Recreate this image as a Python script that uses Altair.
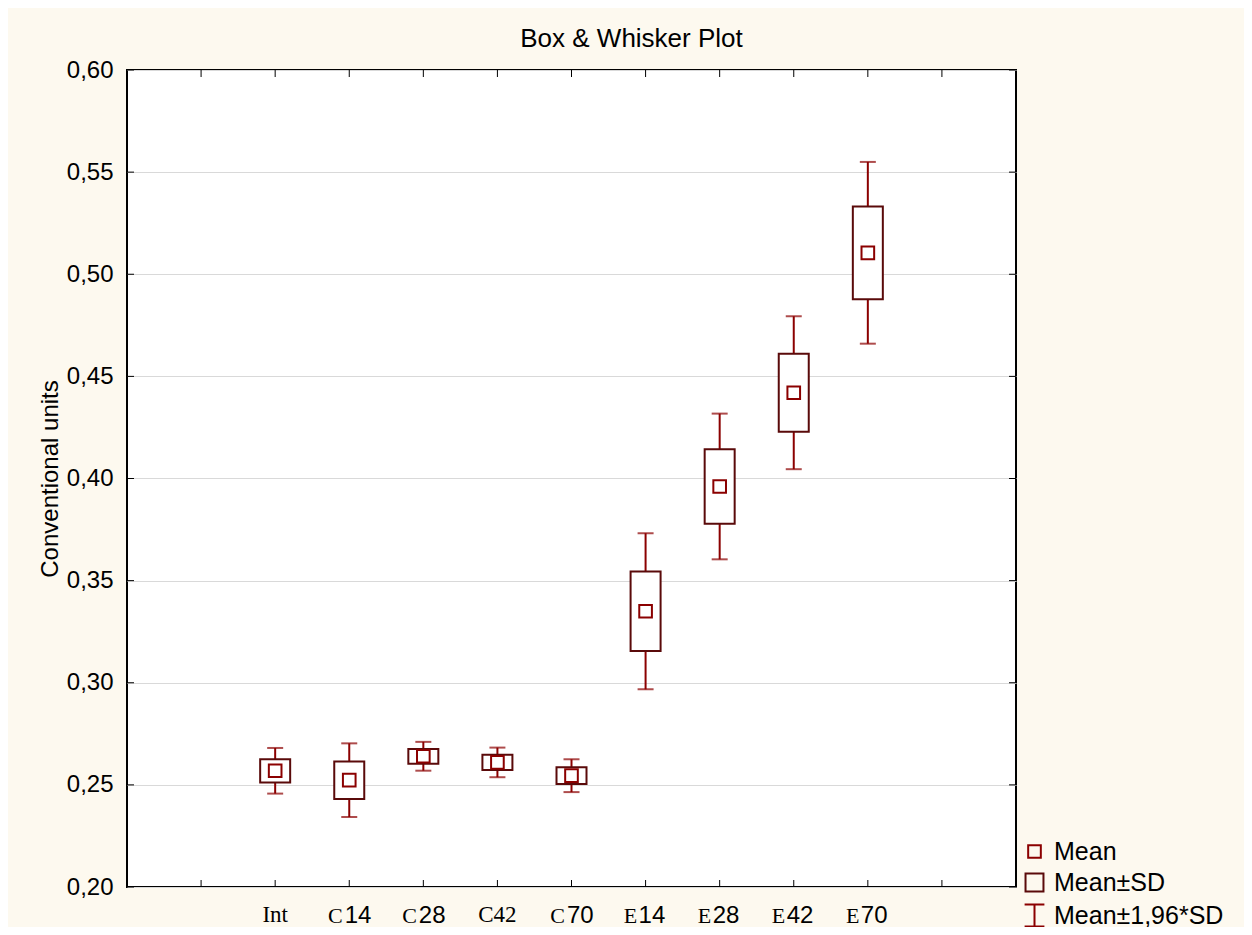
import altair as alt
import pandas as pd

# ---- data ----
groups = ["Int", "C14", "C28", "C42", "C70", "E14", "E28", "E42", "E70"]
means = [0.2569, 0.2523, 0.2640, 0.2610, 0.2545, 0.3350, 0.3961, 0.4420, 0.5105]
sds = [0.0057, 0.0092, 0.0036, 0.0037, 0.0041, 0.0195, 0.0182, 0.0191, 0.0227]
label_serif = ["Int", "C", "C", "C42", "C", "E", "E", "E", "E"]
label_sans = ["", "14", "28", "", "70", "14", "28", "42", "70"]
x_slots = ["s0"] + groups + ["s10"]
y_ticks = [0.20, 0.25, 0.30, 0.35, 0.40, 0.45, 0.50, 0.55, 0.60]
legend_items = ["Mean", "Mean±SD", "Mean±1,96*SD"]

W, H = 889, 817
SANS = "Liberation Sans"
SERIF = "Liberation Serif"
RED = "#8B0000"
DARK = "#5A0A0A"
IBEAM = "M-0.9,-1H0.9M0,-1V1M-0.9,1H0.9"

df = pd.DataFrame({"group": groups, "mean": means, "sd": sds,
                   "serif": label_serif, "sans": label_sans})
df["series"] = "Mean"

xscale = alt.Scale(type="point", domain=x_slots, padding=1)
yscale = alt.Scale(domain=[0.2, 0.6], nice=False, zero=False)
xenc = alt.X("group:N", scale=xscale, axis=None)

yaxis = alt.Axis(
    values=y_ticks,
    labelExpr="replace(format(datum.value, '.2f'), '.', ',')",
    ticks=False, domain=False,
    grid=True, gridColor="#d9d9d9", gridWidth=1,
    labelFont=SANS, labelFontSize=24, labelColor="black", labelPadding=14,
    title="Conventional units", titleFont=SANS, titleFontSize=24,
    titleFontWeight="normal", titleColor="black",
    titleAngle=270, titleAlign="center", titleBaseline="middle",
    titleX=-77, titleY=H / 2,
)


def Y(field):
    return alt.Y(field, scale=yscale, axis=yaxis)


base = alt.Chart(df).transform_calculate(
    sd_lo="datum.mean - datum.sd",
    sd_hi="datum.mean + datum.sd",
    w_lo="datum.mean - 1.96 * datum.sd",
    w_hi="datum.mean + 1.96 * datum.sd",
)

whisk = base.mark_rule(color=RED, strokeWidth=2).encode(
    x=xenc, y=Y("w_lo:Q"), y2="w_hi:Q")
cap_hi = base.mark_tick(color=RED, thickness=2, size=16, orient="horizontal").encode(
    x=xenc, y=Y("w_hi:Q"))
cap_lo = base.mark_tick(color=RED, thickness=2, size=16, orient="horizontal").encode(
    x=xenc, y=Y("w_lo:Q"))
box = base.mark_bar(fill="white", stroke=DARK, strokeWidth=2, width=30).encode(
    x=xenc, y=Y("sd_lo:Q"), y2="sd_hi:Q")

leg = alt.Legend(orient="none", legendX=895, legendY=769, title=None,
                 labelFont=SANS, labelFontSize=25, labelColor="black", labelLimit=400,
                 symbolStrokeWidth=2, labelOffset=7, rowPadding=4, padding=0,
                 symbolFillColor="transparent")
mean_pts = base.mark_point(filled=False, strokeWidth=2, opacity=1).encode(
    x=xenc,
    y=Y("mean:Q"),
    color=alt.Color("series:N", scale=alt.Scale(domain=legend_items, range=[RED, DARK, RED]), legend=leg),
    shape=alt.Shape("series:N", scale=alt.Scale(domain=legend_items, range=["square", "square", IBEAM]), legend=leg),
    size=alt.Size("series:N", scale=alt.Scale(domain=legend_items, range=[160, 484, 625]), legend=leg),
)

# inward ticks on all four sides
yt = alt.Chart(pd.DataFrame({"v": y_ticks}))
xt = alt.Chart(pd.DataFrame({"slot": x_slots}))
tick_l = yt.mark_rule(color="black", strokeWidth=1).encode(
    y=Y("v:Q"), x=alt.value(0), x2=alt.value(7))
tick_r = yt.mark_rule(color="black", strokeWidth=1).encode(
    y=Y("v:Q"), x=alt.value(W), x2=alt.value(W - 7))
tick_t = xt.mark_rule(color="black", strokeWidth=1).encode(
    x=alt.X("slot:N", scale=xscale, axis=None), y=alt.value(0), y2=alt.value(7))
tick_b = xt.mark_rule(color="black", strokeWidth=1).encode(
    x=alt.X("slot:N", scale=xscale, axis=None), y=alt.value(H), y2=alt.value(H - 7))

# category labels with mixed fonts
LY = H + 36
lab_full = alt.Chart(df).transform_filter("datum.sans == ''").mark_text(
    font=SERIF, fontSize=23, color="black", align="center", baseline="alphabetic").encode(
    x=xenc, y=alt.value(LY - 1), text="serif:N")


def mixed(prefix, dpre, dsuf):
    sub = alt.Chart(df).transform_filter(f"datum.sans != '' && datum.serif == '{prefix}'")
    a = sub.mark_text(font=SERIF, fontSize=22, color="black", align="right",
                      baseline="alphabetic", dx=dpre).encode(x=xenc, y=alt.value(LY), text="serif:N")
    b = sub.mark_text(font=SANS, fontSize=24, color="black", align="left",
                      baseline="alphabetic", dx=dsuf).encode(x=xenc, y=alt.value(LY), text="sans:N")
    return [a, b]


layers = [whisk, box, cap_hi, cap_lo, mean_pts, tick_l, tick_r, tick_t, tick_b, lab_full] \
    + mixed("C", -6.5, -4.5) + mixed("E", -8.5, -7)

chart = alt.layer(*layers).properties(
    width=W, height=H,
    padding={"left": 119, "top": 62, "right": 228, "bottom": 40},
    autosize=alt.AutoSizeParams(type="none"),
    background="#FDF9EF",
    title=alt.Title("Box & Whisker Plot", font=SANS, fontSize=26, fontWeight="normal",
                    color="black", anchor="middle", dx=60, offset=-15, baseline="alphabetic"),
).configure_view(stroke="black", strokeWidth=2, fill="white")

chart.save("out.html", embed_options={"renderer": "svg", "actions": False})
